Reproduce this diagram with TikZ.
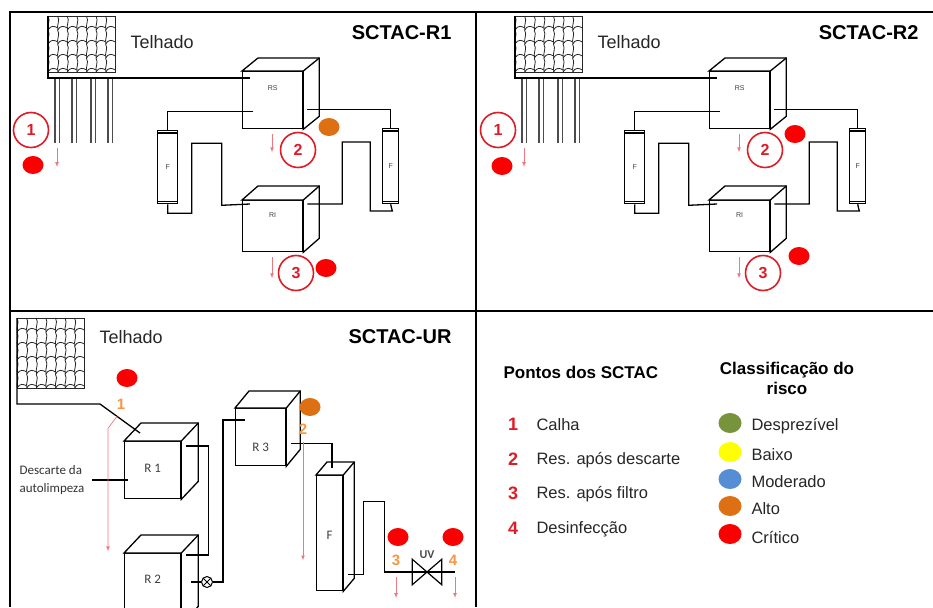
\documentclass[tikz,border=0pt]{standalone}
\usepackage{fontspec}
\setsansfont{Liberation Sans}
\newfontfamily\carlito{Carlito}
\usetikzlibrary{calc,shapes.geometric}
\definecolor{ptred}{RGB}{222,28,38}
\definecolor{ptorange}{RGB}{244,150,70}
\definecolor{ptpink}{RGB}{238,120,130}
\definecolor{riskred}{RGB}{250,0,0}
\definecolor{riskorange}{RGB}{220,112,18}
\definecolor{riskgreen}{RGB}{119,147,60}
\definecolor{riskyellow}{RGB}{255,255,0}
\definecolor{riskblue}{RGB}{85,142,213}
\tikzset{>=latex, % LaTeX arrow tips
  plan/.style={x=1pt, y=-1pt, font=\sffamily},
  frame/.style={line width=2pt},
  pipe/.style={line width=1.3pt},
  tile/.style={line width=0.8pt, draw=black!85},
  tank/.style={draw, line width=1.3pt, fill=white, inner sep=0pt, anchor=north west},
  tanklabel/.style={anchor=north, text=black!75, font=\sffamily\fontsize{7}{7}\selectfont},
  urlabel/.style={anchor=north, text=black!75, font=\carlito\fontsize{13}{13}\selectfont},
  filterbox/.style={draw, line width=1.3pt, fill=white, inner sep=0pt, anchor=north west,
    text=black!75, font=\sffamily\fontsize{7}{7}\selectfont},
  gutter/.style={draw=black!70, line width=1.2pt, double=white, double distance=3pt},
  point/.style={circle, draw=ptred, line width=1.6pt, minimum size=35pt, inner sep=0pt,
    text=ptred, font=\sffamily\bfseries\fontsize{16}{16}\selectfont},
  urpoint/.style={text=ptorange, inner sep=0pt, font=\sffamily\bfseries\fontsize{15}{15}\selectfont},
  risk/.style={ellipse, minimum width=21pt, minimum height=18pt, inner sep=0pt},
  sample/.style={->, draw=ptpink, line width=0.7pt},
  title/.style={font=\sffamily\bfseries\fontsize{20}{20}\selectfont},
  roofname/.style={text=black!85, font=\sffamily\fontsize{18}{18}\selectfont},
  handvalve/.style={circle, draw, line width=1pt, minimum size=11pt, inner sep=0pt,
    path picture={\draw[line width=0.8pt]
      (path picture bounding box.north west) -- (path picture bounding box.south east)
      (path picture bounding box.north east) -- (path picture bounding box.south west);}},
  legtitle/.style={font=\sffamily\bfseries\fontsize{17}{20}\selectfont},
  legnum/.style={text=ptred, font=\sffamily\bfseries\fontsize{18}{18}\selectfont},
  legtext/.style={anchor=west, text=black!85, font=\sffamily\fontsize{16.5}{16.5}\selectfont},
}
% roof tiles: left, top, columns, rows
\newcommand{\rooftiles}[4]{
  \draw[tile] (#1,#2) rectangle (#1+#3*9.6,#2+#4*14);
  \foreach \cl in {1,...,#3}{
    \foreach \rw in {1,...,#4}{
      \draw[tile] (#1+\cl*9.6-9.6,#2+\rw*14-14) .. controls (#1+\cl*9.6-6.6,#2+\rw*14-9)
        and (#1+\cl*9.6-11.1,#2+\rw*14-5) .. (#1+\cl*9.6-9.1,#2+\rw*14);
      \draw[tile] (#1+\cl*9.6-9.6,#2+\rw*14) .. controls (#1+\cl*9.6-6.6,#2+\rw*14-5)
        and (#1+\cl*9.6-3,#2+\rw*14-4) .. (#1+\cl*9.6,#2+\rw*14-2);
    }}
}
% top and side faces of a tank
\newcommand{\cubefaces}[3]{
  \draw[pipe, fill=white] (#1.north west) -- ([shift={(#2,-#3)}]#1.north west)
    -- ([shift={(#2,-#3)}]#1.north east) -- ([shift={(#2,-#3)}]#1.south east)
    -- (#1.south east) -- (#1.north east) -- cycle;
  \draw[pipe] (#1.north east) -- ([shift={(#2,-#3)}]#1.north east);
}
% two-tank system: prefix, shift, title
\newcommand{\twotankpanel}[3]{
  \begin{scope}[xshift=#2pt]
    \rooftiles{48}{16}{7}{4}
    \foreach \gx [count=\k] in {57,74,93,110}
      \draw[gutter] (\gx,78) -- (\gx,143) coordinate (#1gut\k);
    \coordinate (#1gutter) at (48,78);
    \node[roofname, anchor=west] (#1roofname) at (127,42) {Telhado};
    \node[title, anchor=east] (#1title) at (455,33) {#3};

    \node[tank, minimum width=60pt, minimum height=57pt,
      label={[tanklabel, yshift=-11pt]north:RS}] (#1rs) at (242,71) {};
    \cubefaces{#1rs}{16}{13}
    \node[tank, minimum width=60pt, minimum height=51pt,
      label={[tanklabel, yshift=-9pt]north:RI}] (#1ri) at (242,200) {};
    \cubefaces{#1ri}{16}{14}
    \node[filterbox, minimum width=20pt, minimum height=73pt] (#1fl) at (157,130) {F};
    \node[filterbox, minimum width=16pt, minimum height=75pt] (#1fr) at (382,128) {F};
    \draw[pipe] ([yshift=-3pt]#1fl.north west) -- ([yshift=-3pt]#1fl.north east)
      ([yshift=3pt]#1fl.south west) -- ([yshift=3pt]#1fl.south east);
    \draw[pipe] ([yshift=-3pt]#1fr.north west) -- ([yshift=-3pt]#1fr.north east)
      ([yshift=3pt]#1fr.south west) -- ([yshift=3pt]#1fr.south east);

    \draw[pipe] (48,16) -- (#1gutter) -- ([shift={(8,7)}]#1rs.north west);
    \draw[pipe] ([shift={(11,-18)}]#1rs.south west) -| (#1fl.north);
    \draw[pipe] (#1fl.south) -- ++(0,9) -| ++(24,-70) -| ++(30,62)
      -- ([shift={(8,4)}]#1ri.north west);
    \draw[pipe] ([shift={(4,-20)}]#1rs.south east) -| (#1fr.north);
    \draw[pipe] ([shift={(4,4)}]#1ri.north east) -- ++(35,0) |- ++(28,-62)
      |- ++(22,69) -- (#1fr.south);

    \draw[sample] ([yshift=-5pt]#1gut1) -- ++(0,19);
    \draw[sample] ([shift={(30,5)}]#1rs.south west) -- ++(0,18);
    \draw[sample] ([shift={(30,5)}]#1ri.south west) -- ++(0,21);
    \node[point] (#1p1) at (31,130) {1};
    \node[point] (#1p2) at (298,150) {2};
    \node[point] (#1p3) at (296,273) {3};
  \end{scope}
}

\begin{document}
\begin{tikzpicture}[plan]
  \useasboundingbox (0,0) rectangle (933,607);
  \clip (0,0) rectangle (933,607);

  \draw[frame] (10,607) -- (10,12) -- (933,12);
  \draw[frame] (476,12) -- (476,607);
  \draw[frame] (10,311) -- (933,311);

  \twotankpanel{a}{0}{SCTAC-R1}
  \twotankpanel{b}{467}{SCTAC-R2}

  \node[risk, fill=riskred] (arisk1) at (33,165) {};
  \node[risk, fill=riskorange] (arisk2) at (329,127) {};
  \node[risk, fill=riskred] (arisk3) at (326,268) {};
  \node[risk, fill=riskred] (brisk1) at (502,166) {};
  \node[risk, fill=riskred] (brisk2) at (795,134) {};
  \node[risk, fill=riskred] (brisk3) at (799,256) {};

  % SCTAC-UR
  \rooftiles{17}{318}{7}{5}
  \node[roofname, anchor=west] (urroofname) at (96,337) {Telhado};
  \node[title, anchor=east] (urtitle) at (455,337) {SCTAC-UR};

  \node[tank, minimum width=56pt, minimum height=57pt,
    label={[urlabel, yshift=-20pt]north:R 1}] (ur1) at (124,441) {};
  \cubefaces{ur1}{17}{18}
  \node[tank, minimum width=56pt, minimum height=70pt,
    label={[urlabel, yshift=-19pt]north:R 2}] (ur2) at (124,553) {};
  \cubefaces{ur2}{17}{18}
  \node[tank, minimum width=50pt, minimum height=57pt,
    label={[urlabel, yshift=-32pt]north:R 3}] (ur3) at (235,408) {};
  \cubefaces{ur3}{14}{17}
  \node[tank, minimum width=26pt, minimum height=115pt,
    label={[urlabel, yshift=-53pt]north:F}] (urf) at (316,475) {};
  \cubefaces{urf}{11}{13}

  \node[text=black!80, align=left, font=\carlito\fontsize{13}{18}\selectfont]
    (desc) at (52,480) {Descarte da\\autolimpeza};
  \node[handvalve] (urvalve) at (207,582) {};
  \node[minimum width=29pt, minimum height=25pt, inner sep=0pt,
    label={[text=black!70, yshift=-3pt, font=\carlito\bfseries\fontsize{12}{12}\selectfont]north:UV}]
    (uv) at (427,572) {};

  \draw[pipe] (17,318) -- (17,404) -- (100,404) -- ([shift={(16,-8)}]ur1.north west);
  \draw[pipe] ([xshift=4pt]desc.east) -- ([xshift=4pt]ur1.west |- desc.east);
  \draw[pipe] ([shift={(5,5)}]ur1.north east) -- ++(22,0) |- ([shift={(5,2)}]ur2.north east);
  \draw[pipe] ([shift={(10,29)}]ur2.north east) -- (urvalve.west);
  \draw[pipe] (urvalve.east) -- ++(10,0) |- ([shift={(10,12)}]ur3.north west);
  \draw[pipe] ([shift={(5,-23)}]ur3.south east) -| ([shift={(16,-7)}]urf.north west);
  \draw[pipe] ([shift={(5,-17)}]urf.south east) -- ++(15,0) |- ++(21,-73) |- (uv.west)
    -- (uv.east) -- ++(13,0) coordinate (urout);
  \draw[line width=1.2pt] (uv.north west) -- (uv.south east) -- (uv.north east)
    -- (uv.south west) -- cycle;

  \node[urpoint] (urn1) at (121,404) {1};
  \node[urpoint] (urn2) at (303,429) {2};
  \node[urpoint] (urn3) at (396,560) {3};
  \node[urpoint] (urn4) at (453,560) {4};
  \draw[sample] ([shift={(-4,7)}]urn1.south) -- ++(-9,12) -- ++(0,123);
  \draw[sample] ([yshift=-8pt]urn2.south) -- ++(0,118);
  \draw[sample] ($(urn3.south |- uv.center)+(0,5)$) -- ++(0,21);
  \draw[sample] ($(urn4.south |- urout)+(2,5)$) -- ++(0,21);

  \node[risk, fill=riskred] (urrisk1) at (127,378) {};
  \node[risk, fill=riskorange] (urrisk2) at (310,407) {};
  \node[risk, fill=riskred] (urrisk3) at (398,537) {};
  \node[risk, fill=riskred] (urrisk4) at (453,537) {};

  % legend
  \node[legtitle, anchor=west] (pttitle) at (500,372) {Pontos dos SCTAC};
  \node[legtitle, align=center] (risktitle) at (787,378) {Classificação do\\risco};
  \foreach \n/\txt/\yy in {1/Calha/424, 2/Res. após descarte/459,
      3/Res. após filtro/493, 4/Desinfecção/528}{
    \node[legnum] (num\n) at (513,\yy) {\n};
    \node[legtext] (pt\n) at (533,\yy+1) {\txt};
  }
  \foreach \cc/\txt/\yy [count=\k] in {riskgreen/Desprezível/423, riskyellow/Baixo/452,
      riskblue/Moderado/479, riskorange/Alto/506, riskred/Crítico/534}{
    \node[risk, fill=\cc, minimum width=23pt, minimum height=20pt] (risk\k) at (730,\yy) {};
    \node[legtext] (risklabel\k) at (748,\yy+3) {\txt};
  }
\end{tikzpicture}
\end{document}
